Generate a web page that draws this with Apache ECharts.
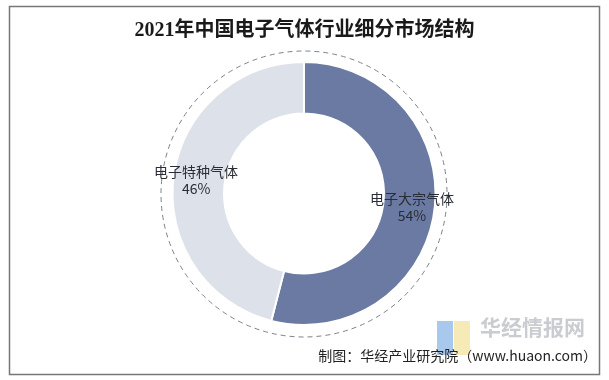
<!DOCTYPE html>
<html>
<head>
<meta charset="utf-8">
<script src="https://cdn.jsdelivr.net/npm/echarts@6/dist/echarts.min.js"></script>
<style>html,body{margin:0;padding:0;background:#fff}#c{width:609px;height:380px}</style>
</head>
<body>
<div id="c"></div>
<script>
const titleText = '2021年中国电子气体行业细分市场结构';
const categories = ['电子大宗气体', '电子特种气体'];
const values = [54, 46];
const colors = ['#6a7aa2', '#dde1ea'];
const sourceText = '制图：华经产业研究院（www.huaon.com）';

const chart = echarts.init(document.getElementById('c'), null, {renderer: 'canvas'});
chart.setOption({
  backgroundColor: '#fff',
  animation: false,
  title: {
    text: titleText,
    left: 'center',
    top: 16,
    textStyle: {fontFamily: '"Liberation Serif", "Noto Sans CJK SC", serif', fontWeight: 'bold', fontSize: 20, color: '#1a1a1a'}
  },
  graphic: [
    {type: 'rect', shape: {x: 9.5, y: 6.5, width: 590, height: 368}, style: {fill: 'none', stroke: '#777', lineWidth: 1.5}, z: 0},
    {type: 'circle', shape: {cx: 304, cy: 194, r: 143}, style: {fill: 'none', stroke: '#7d828c', lineWidth: 1, lineDash: [5, 4]}, z: 1},
    {type: 'rect', shape: {x: 437, y: 321, width: 16, height: 34}, style: {fill: '#a9c8ee'}, z: 1},
    {type: 'rect', shape: {x: 454, y: 321, width: 16, height: 34}, style: {fill: '#f6eab6'}, z: 1},
    {type: 'text', style: {x: 480, y: 317, text: '华经情报网', fill: '#c9ccd1', font: 'bold 21px "Noto Sans CJK SC"'}, z: 1},
    {type: 'text', style: {x: 597, y: 349, text: sourceText, fill: '#222', font: '14px "Noto Sans CJK SC"', align: 'right'}, z: 2}
  ],
  series: [{
    type: 'pie',
    center: [304, 193.5],
    radius: [80, 131.5],
    startAngle: 90,
    clockwise: true,
    silent: true,
    itemStyle: {borderColor: '#fff', borderWidth: 2},
    label: {
      show: true,
      position: 'inside',
      formatter: function (p) { return p.name + '\n' + p.value + '%'; },
      fontFamily: '"Noto Sans CJK SC", sans-serif',
      fontSize: 14,
      lineHeight: 17,
      color: '#2a2d35'
    },
    labelLine: {show: false},
    data: categories.map((c, i) => ({name: c, value: values[i], itemStyle: {color: colors[i]}}))
  }]
});
</script>
</body>
</html>
